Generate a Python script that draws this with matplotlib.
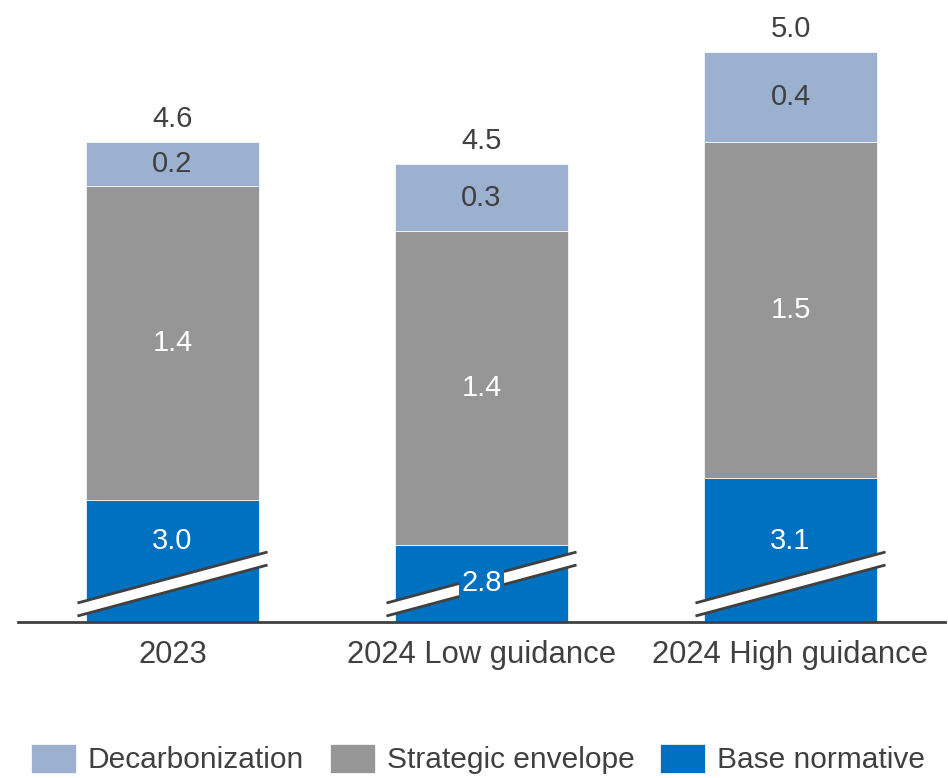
import matplotlib.pyplot as plt
from matplotlib.patches import Polygon

plt.rcParams["font.family"] = ["Liberation Sans", "DejaVu Sans"]

categories = ["2023", "2024 Low guidance", "2024 High guidance"]
base_normative = [3.0, 2.8, 3.1]
strategic_envelope = [1.4, 1.4, 1.5]
decarbonization = [0.2, 0.3, 0.4]
totals = [4.6, 4.5, 5.0]

BLUE = "#0070C0"
GREY = "#969696"
LIGHT = "#9CB0CF"
TEXT = "#404040"

Y0 = 2.455          # axis is cut; bars start here
Y1 = Y0 + 602 / 224
WIDTH = 0.557

fig = plt.figure(figsize=(9.48, 7.78), dpi=100)
ax = fig.add_axes([18 / 948, 156 / 778, 927 / 948, 602 / 778])
ax.set_xlim(-0.5, 2.5)
ax.set_ylim(Y0, Y1)

x = list(range(len(categories)))
strat_bottom = base_normative
decarb_bottom = [b + s for b, s in zip(base_normative, strategic_envelope)]

ax.bar(x, [b - Y0 for b in base_normative], WIDTH, bottom=Y0, color=BLUE,
       edgecolor="white", linewidth=0.5, label="Base normative")
ax.bar(x, strategic_envelope, WIDTH, bottom=strat_bottom, color=GREY,
       edgecolor="white", linewidth=0.5, label="Strategic envelope")
ax.bar(x, decarbonization, WIDTH, bottom=decarb_bottom, color=LIGHT,
       edgecolor="white", linewidth=0.5, label="Decarbonization")

# axis-break strip across each base segment
ext = 0.029
lo_l, lo_r = 19 / 224, 70 / 224
band = 13 / 224
for xi in x:
    xl, xr = xi - WIDTH / 2 - ext, xi + WIDTH / 2 + ext
    upper = [(xl, Y0 + lo_l), (xr, Y0 + lo_r)]
    lower = [(xl, Y0 + lo_l - band), (xr, Y0 + lo_r - band)]
    ax.add_patch(Polygon(upper + lower[::-1], closed=True, facecolor="white",
                         edgecolor="none", zorder=3, clip_on=False))
    for seg in (upper, lower):
        ax.plot([p[0] for p in seg], [p[1] for p in seg], color=TEXT, lw=2,
                zorder=4, solid_capstyle="butt", clip_on=False)

fs = 21
mid_break = Y0 + (lo_l + lo_r) / 2
for xi, b, s, d, t in zip(x, base_normative, strategic_envelope, decarbonization, totals):
    ly = mid_break + 0.165
    if ly + 0.1 < b:
        ax.text(xi, ly, f"{b:.1f}", ha="center", va="center", color="white",
                fontsize=fs, zorder=5)
    else:
        ax.text(xi, (Y0 + b) / 2, f"{b:.1f}", ha="center", va="center", color="white",
                fontsize=fs, zorder=5,
                bbox=dict(boxstyle="square,pad=0.08", facecolor=BLUE, edgecolor="none"))
    ax.text(xi, b + s / 2, f"{s:.1f}", ha="center", va="center", color="white", fontsize=fs)
    ax.text(xi, b + s + d / 2, f"{d:.1f}", ha="center", va="center", color=TEXT, fontsize=fs)
    ax.text(xi, t + 23 / 224, f"{t:.1f}", ha="center", va="center", color=TEXT, fontsize=fs)

for side in ("left", "right", "top"):
    ax.spines[side].set_visible(False)
ax.spines["bottom"].set_color(TEXT)
ax.spines["bottom"].set_linewidth(2)
ax.spines["bottom"].set_zorder(6)
ax.set_yticks([])
ax.set_xticks(x)
ax.set_xticklabels(categories, fontsize=22.3, color=TEXT)
ax.tick_params(axis="x", length=0, pad=13)

handles, labels = ax.get_legend_handles_labels()
fig.legend(handles[::-1], labels[::-1], loc="upper left",
           bbox_to_anchor=(31 / 948, 1 - 744 / 778), ncol=3, frameon=False,
           fontsize=21.5, handlelength=1.5, handleheight=1.1, handletextpad=0.4,
           columnspacing=0.87, borderpad=0, borderaxespad=0, labelcolor=TEXT)

fig.savefig("out.png", dpi=100)
